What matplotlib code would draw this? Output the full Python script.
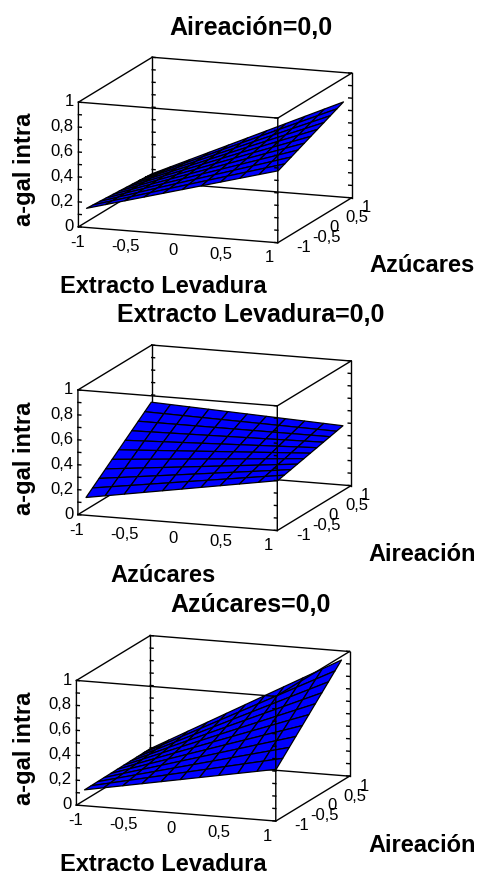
import numpy as np
import matplotlib
matplotlib.use('Agg')
from matplotlib import pyplot as plt
from mpl_toolkits.mplot3d import proj3d

plt.rcParams['font.family'] = ['Liberation Sans', 'DejaVu Sans']

# fitted response surface (coded factors -1..1)
b0 = 0.39
b_ext = 0.281
b_azu = 0.048
b_air = 0.142
b_ext_azu = 0.069
b_ext_air = 0.137
b_azu_air = -0.081

levels = np.linspace(-1, 1, 11)
axis_ticks = [-1, -0.5, 0, 0.5, 1]
z_ticks = [0, 0.2, 0.4, 0.6, 0.8, 1]
z_minor = np.arange(0, 1.01, 0.1)

titles = ['Aireación=0,0', 'Extracto Levadura=0,0', 'Azúcares=0,0']
x_names = ['Extracto Levadura', 'Azúcares', 'Extracto Levadura']
y_names = ['Azúcares', 'Aireación', 'Aireación']
z_name = 'a-gal intra'


def respuesta(ext, azu, air):
    return (b0 + b_ext * ext + b_azu * azu + b_air * air
            + b_ext_azu * ext * azu + b_ext_air * ext * air
            + b_azu_air * azu * air)


def fmt(v):
    return ('%g' % v).replace('.', ',')


W, H = 479, 876
fig = plt.figure(figsize=(W / 100, H / 100), dpi=100)

S = 340
Lx, Ly = 1.04, 1.13
# axes top-left corners (px) for the three panels
pos = [(40.4, -15.4), (39.9, 272.4), (38.4, 562.9)]
title_y = [35, 322, 612]
xlab_y = [293, 582, 871]
ylab_y = [272, 561, 852]
zlab_y = [169, 458, 748]

X, Y = np.meshgrid(levels, levels)
zs = [respuesta(X, Y, 0), respuesta(0, X, Y), respuesta(X, 0, Y)]

for i in range(3):
    left, top = pos[i]
    ax = fig.add_axes([left / W, 1 - (top + S) / H, S / W, S / H], projection='3d')
    ax.set_facecolor('none')
    ax.computed_zorder = False
    ax.set_proj_type('ortho')
    ax.view_init(elev=12.74, azim=-70.07)
    ax.set_box_aspect((212.7, 217.1, 128.2), zoom=0.939)
    ax.set_axis_off()
    ax.set_xlim(-Lx, Lx)
    ax.set_ylim(-Ly, Ly)
    ax.set_zlim(0, 1)

    k = dict(color='black', lw=1.0)
    # back edges
    ax.plot([-Lx, Lx], [Ly, Ly], [0, 0], zorder=1, **k)
    ax.plot([-Lx, -Lx], [-Ly, Ly], [0, 0], zorder=1, **k)
    ax.plot([-Lx, -Lx], [Ly, Ly], [0, 1], zorder=1, **k)
    ax.plot([-Lx, Lx], [Ly, Ly], [1, 1], zorder=1, **k)
    ax.plot([-Lx, -Lx], [-Ly, Ly], [1, 1], zorder=1, **k)
    for zt in z_minor:
        ax.plot([-Lx, -Lx + 0.03], [Ly, Ly], [zt, zt], zorder=1, **k)

    ax.plot_surface(X, Y, zs[i], color='#0000ff', edgecolor='black',
                    linewidth=0.9, shade=False, rstride=1, cstride=1,
                    antialiased=True, zorder=2)

    # front edges
    ax.plot([-Lx, Lx, Lx, -Lx, -Lx], [-Ly, -Ly, -Ly, -Ly, -Ly],
            [0, 0, 1, 1, 0], zorder=3, **k)
    ax.plot([Lx, Lx], [-Ly, Ly], [0, 0], zorder=3, **k)
    ax.plot([Lx, Lx], [-Ly, Ly], [1, 1], zorder=3, **k)
    ax.plot([Lx, Lx], [Ly, Ly], [0, 1], zorder=3, **k)
    for zt in z_minor:
        ax.plot([-Lx, -Lx + 0.03], [-Ly, -Ly], [zt, zt], zorder=3, **k)
        ax.plot([Lx, Lx - 0.03], [-Ly, -Ly], [zt, zt], zorder=3, **k)
        ax.plot([Lx, Lx - 0.03], [Ly, Ly], [zt, zt], zorder=3, **k)

    # tick labels, placed with the axes' own projection
    M = ax.get_proj()

    def rotulo(x, y, z, s, **kw):
        xp, yp, _ = proj3d.proj_transform(x, y, z, M)
        ax.text2D(xp, yp, s, transform=ax.transData, fontsize=12, **kw)

    for t in z_ticks:
        rotulo(-Lx - 0.05, -Ly, t, fmt(t), ha='right', va='center')
    for t in axis_ticks:
        rotulo(t, -Ly - 0.15, -0.1, fmt(t), ha='center', va='center')
        rotulo(Lx + 0.15, t, -0.05, fmt(t), ha='left', va='center')

    fig.text(251 / W, 1 - title_y[i] / H, titles[i], ha='center',
             va='baseline', fontsize=18, fontweight='bold')
    fig.text(163 / W, 1 - xlab_y[i] / H, x_names[i], ha='center',
             va='baseline', fontsize=17, fontweight='bold')
    fig.text(422 / W, 1 - ylab_y[i] / H, y_names[i], ha='center',
             va='baseline', fontsize=17, fontweight='bold')
    fig.text(24.5 / W, 1 - zlab_y[i] / H, z_name, ha='center', va='center',
             rotation=90, fontsize=17, fontweight='bold')

fig.savefig('out.png', dpi=100)
